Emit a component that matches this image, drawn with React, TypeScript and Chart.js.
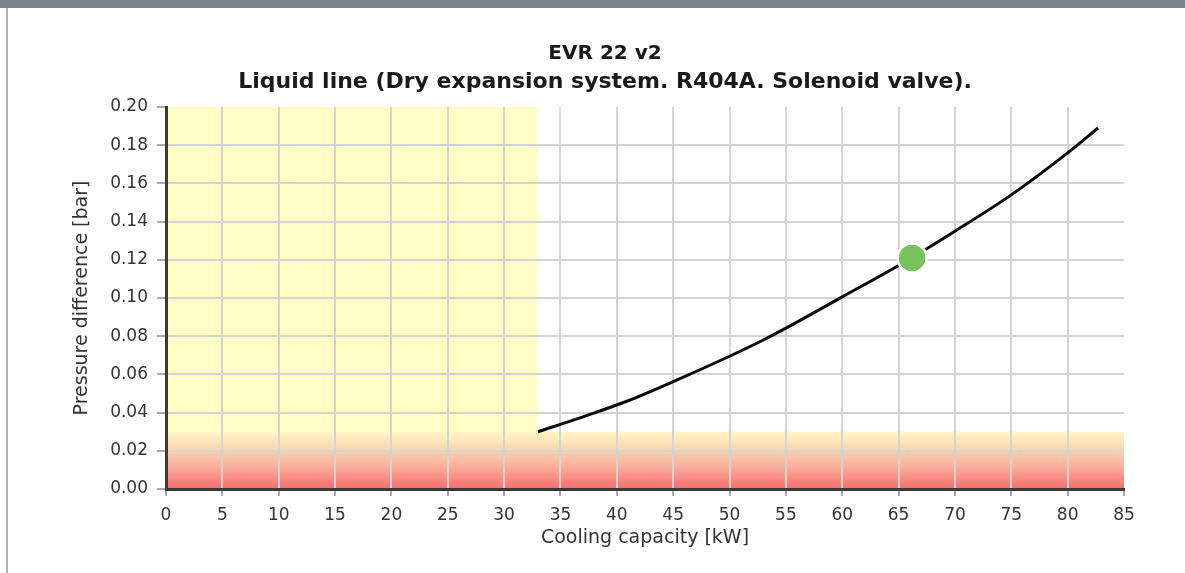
import React, { useEffect, useRef } from "react";
import { Chart, registerables } from "chart.js";

Chart.register(...registerables);

// ---- data ----
const titleText = ["EVR 22 v2"];
const subtitleText = ["Liquid line (Dry expansion system. R404A. Solenoid valve)."];
const xAxisTitle = "Cooling capacity [kW]";
const yAxisTitle = "Pressure difference [bar]";

const capacityKW = [33, 35, 37, 41, 45, 50, 53, 55, 60, 65, 70, 75, 80, 82.7];
const pressureBar = [0.03, 0.0338, 0.0378, 0.0462, 0.0562, 0.0695, 0.078, 0.0842, 0.1006, 0.117, 0.135, 0.154, 0.176, 0.189];

const operatingCapacity = [66.2];
const operatingPressure = [0.121];

const xRange = [0, 85];
const xStep = [5];
const yRange = [0, 0.2];
const yStep = [0.02];

const minCapacityZone = [0, 33]; // kW, below min capacity
const lowPressureZone = [0, 0.03]; // bar, too low pressure drop

const FONT = "'DejaVu Sans', Verdana, sans-serif";

const zonesPlugin = {
  id: "zones",
  beforeDraw(chart: any) {
    const { ctx, scales } = chart;
    const x = scales.x;
    const y = scales.y;
    const x0 = x.getPixelForValue(minCapacityZone[0]);
    const x1 = x.getPixelForValue(minCapacityZone[1]);
    const xr = x.getPixelForValue(xRange[1]);
    const yTop = y.getPixelForValue(yRange[1]);
    const yBot = y.getPixelForValue(lowPressureZone[0]);
    const bTop = y.getPixelForValue(lowPressureZone[1]);
    ctx.save();
    ctx.fillStyle = "#ffffc6";
    ctx.fillRect(x0, yTop, x1 - x0, yBot - yTop);
    const g = ctx.createLinearGradient(0, bTop, 0, yBot);
    g.addColorStop(0, "#fff5c4");
    g.addColorStop(0.3, "#fcd6ae");
    g.addColorStop(0.6, "#fbb09e");
    g.addColorStop(1, "#f86c6c");
    ctx.fillStyle = g;
    ctx.fillRect(x0, bTop, xr - x0, yBot - bTop);
    ctx.restore();
  },
};

export default function App() {
  const ref = useRef<HTMLCanvasElement | null>(null);

  useEffect(() => {
    if (!ref.current) return;
    const near = (a: number, b: number) => Math.abs(a - b) < 1e-9;
    const chart = new Chart(ref.current, {
      type: "scatter",
      data: {
        datasets: [
          {
            label: "Operating point",
            data: operatingCapacity.map((c, i) => ({ x: c, y: operatingPressure[i] })),
            pointRadius: 14.5,
            pointBackgroundColor: "#77c25c",
            pointBorderColor: "#ffffff",
            pointBorderWidth: 2.5,
            showLine: false,
            xAxisID: "x",
            yAxisID: "y",
          } as any,
          {
            label: "Pressure difference",
            data: capacityKW.map((c, i) => ({ x: c, y: pressureBar[i] })),
            showLine: true,
            borderColor: "#0a0a0a",
            borderWidth: 3,
            pointRadius: 0,
            fill: false,
            cubicInterpolationMode: "monotone",
            xAxisID: "x",
            yAxisID: "y",
          } as any,
        ],
      },
      options: {
        animation: false,
        responsive: false,
        events: [],
        layout: { padding: { left: 25, right: 0, top: 0, bottom: 0 } },
        plugins: {
          legend: { display: false },
          tooltip: { enabled: false },
          title: {
            display: true,
            text: titleText,
            color: "#1a1a1a",
            font: { family: FONT, size: 20, weight: "bold", lineHeight: 1.45 },
            padding: { top: 39, bottom: 0 },
          },
          subtitle: {
            display: true,
            text: subtitleText,
            color: "#1a1a1a",
            font: { family: FONT, size: 22, weight: "bold", lineHeight: 29 / 22 },
            padding: { top: 0, bottom: 10 },
          },
        },
        scales: {
          x: {
            type: "linear",
            position: "bottom",
            min: xRange[0],
            max: xRange[1],
            ticks: {
              stepSize: xStep[0],
              color: "#333333",
              font: { family: FONT, size: 17 },
              padding: 9,
              maxRotation: 0,
            },
            grid: {
              color: (c: any) =>
                near(c.tick?.value, xRange[0]) || near(c.tick?.value, xRange[1]) ? "rgba(0,0,0,0)" : "#d4d4d4",
              lineWidth: 2,
              tickLength: 7,
              tickColor: "#aaaaaa",
              tickWidth: 2,
            },
            border: { color: "#3a3a3a", width: 3 },
            title: {
              display: true,
              text: xAxisTitle,
              color: "#333333",
              font: { family: FONT, size: 19 },
              padding: { top: 0, bottom: 24 },
            },
            afterFit: (s: any) => {
              s.height = 84;
            },
          },
          y: {
            type: "linear",
            position: "left",
            min: yRange[0],
            max: yRange[1],
            ticks: {
              stepSize: yStep[0],
              color: "#333333",
              font: { family: FONT, size: 17 },
              padding: 9,
              callback: (v: any) => Number(v).toFixed(2),
            },
            grid: {
              color: (c: any) =>
                near(c.tick?.value, yRange[0]) || near(c.tick?.value, yRange[1]) ? "rgba(0,0,0,0)" : "#d4d4d4",
              lineWidth: 2,
              tickLength: 9,
              tickColor: "#aaaaaa",
              tickWidth: 2,
            },
            border: { color: "#3a3a3a", width: 3 },
            title: {
              display: true,
              text: yAxisTitle,
              color: "#333333",
              font: { family: FONT, size: 19 },
              padding: { top: 46, bottom: 0 },
            },
            afterFit: (s: any) => {
              s.width = 141;
            },
          },
          yR: {
            type: "linear",
            position: "right",
            display: true,
            grid: { display: false, drawTicks: false },
            ticks: { display: false },
            border: { display: false },
            afterFit: (s: any) => {
              s.width = 61;
            },
          },
        },
      } as any,
      plugins: [zonesPlugin],
    });
    return () => chart.destroy();
  }, []);

  return (
    <div
      style={{
        position: "fixed",
        left: 0,
        top: 0,
        width: 1185,
        height: 573,
        background: "#ffffff",
        overflow: "hidden",
      }}
    >
      <canvas
        ref={ref}
        width={1185}
        height={573}
        style={{ position: "absolute", left: 0, top: 0, width: 1185, height: 573 }}
      />
      <div style={{ position: "absolute", left: 0, top: 0, width: 1185, height: 8, background: "#7c858e" }} />
      <div style={{ position: "absolute", left: 6, top: 8, width: 2, height: 565, background: "#b4b4b4" }} />
    </div>
  );
}
